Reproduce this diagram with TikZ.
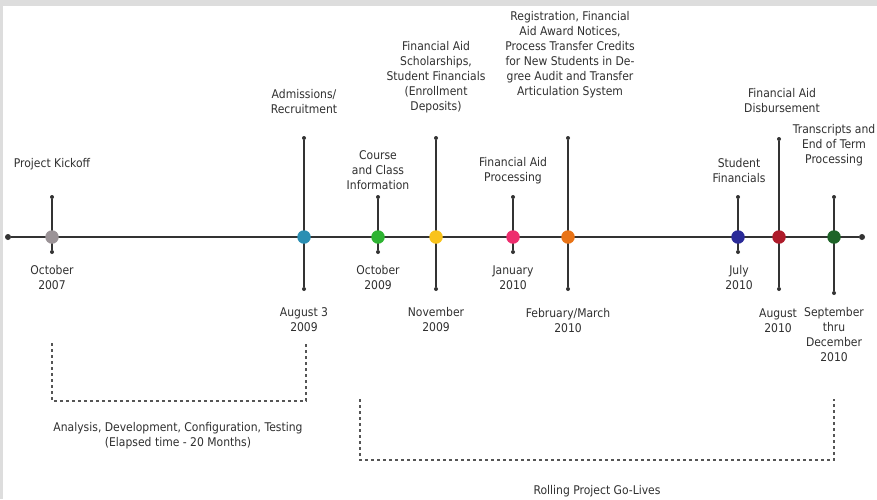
\documentclass[tikz,border=0pt]{standalone}
\usepackage{fontspec}
\setmainfont{DejaVu Sans}[FakeStretch=0.9]
\definecolor{linec}{HTML}{333333}
\definecolor{textc}{HTML}{303030}
\definecolor{dashc}{HTML}{555555}
\definecolor{framec}{HTML}{DDDDDD}
\definecolor{kgray}{HTML}{9B9397}
\definecolor{kteal}{HTML}{2B8FB3}
\definecolor{kgreen}{HTML}{2EB432}
\definecolor{kyellow}{HTML}{F9C31C}
\definecolor{kpink}{HTML}{EE2D6E}
\definecolor{korange}{HTML}{E97316}
\definecolor{knavy}{HTML}{2A2A98}
\definecolor{kred}{HTML}{AE1B2A}
\definecolor{kdgreen}{HTML}{1E6428}
\tikzset{
  axis/.style={draw=linec, line width=1.6pt},
  ms/.style={circle, inner sep=0pt, minimum size=13.5pt, draw=none},
  tipdot/.style={circle, fill=linec, inner sep=0pt, minimum size=4pt},
  enddot/.style={circle, fill=linec, inner sep=0pt, minimum size=6pt},
  lbl/.style={align=center, inner sep=0pt, text=textc, font=\fontsize{12}{15}\selectfont},
  bracket/.style={draw=dashc, line width=1.2pt, dash pattern=on 3pt off 3pt},
}
\begin{document}
\begin{tikzpicture}[x=1pt,y=-1pt]
\useasboundingbox (0,0) rectangle (877,499);
\fill[framec] (0,0) rectangle (877,499);
\fill[white] (3,6) rectangle (877,499);

% main axis
\node[enddot] (L) at (8,237) {};
\node[enddot] (R) at (862,237) {};
\draw[axis] (L) -- (R);

% vertical stems
\node[tipdot] (t1) at (52,197) {};  \node[tipdot] (b1) at (52,252) {};
\node[tipdot] (t2) at (304,138) {}; \node[tipdot] (b2) at (304,289) {};
\node[tipdot] (t3) at (378,197) {}; \node[tipdot] (b3) at (378,252) {};
\node[tipdot] (t4) at (436,138) {}; \node[tipdot] (b4) at (436,289) {};
\node[tipdot] (t5) at (513,197) {}; \node[tipdot] (b5) at (513,252) {};
\node[tipdot] (t6) at (568,138) {}; \node[tipdot] (b6) at (568,289) {};
\node[tipdot] (t7) at (738,197) {}; \node[tipdot] (b7) at (738,252) {};
\node[tipdot] (t8) at (779,139) {}; \node[tipdot] (b8) at (779,289) {};
\node[tipdot] (t9) at (834,197) {}; \node[tipdot] (b9) at (834,293) {};
\foreach \i in {1,...,9} { \draw[axis] (t\i) -- (b\i); }

% milestones
\node[ms, fill=kgray]   (m1) at (52,237) {};
\node[ms, fill=kteal]   (m2) at (304,237) {};
\node[ms, fill=kgreen]  (m3) at (378,237) {};
\node[ms, fill=kyellow] (m4) at (436,237) {};
\node[ms, fill=kpink]   (m5) at (513,237) {};
\node[ms, fill=korange] (m6) at (568,237) {};
\node[ms, fill=knavy]   (m7) at (738,237) {};
\node[ms, fill=kred]    (m8) at (779,237) {};
\node[ms, fill=kdgreen] (m9) at (834,237) {};

% labels
\node[lbl] (l1) at (52,164) {Project Kickoff};
\node[lbl] (d1) at (52,277.5) {October\\2007};
\node[lbl] (l2) at (304,101.5) {Admissions/\\Recruitment};
\node[lbl] (d2) at (304,320) {August 3\\2009};
\node[lbl] (l3) at (378,170) {Course\\and Class\\Information};
\node[lbl] (d3) at (378,278) {October\\2009};
\node[lbl] (l4) at (436,77.5) {Financial Aid\\Scholarships,\\Student Financials\\(Enrollment\\Deposits)};
\node[lbl] (d4) at (436,320) {November\\2009};
\node[lbl] (l5) at (513,170.5) {Financial Aid\\Processing};
\node[lbl] (d5) at (513,277.5) {January\\2010};
\node[lbl] (l6) at (570,54.5) {Registration, Financial\\Aid Award Notices,\\Process Transfer Credits\\for New Students in De-\\gree Audit and Transfer\\Articulation System};
\node[lbl] (d6) at (568,321) {February/March\\2010};
\node[lbl] (l7) at (739,170.5) {Student\\Financials};
\node[lbl] (d7) at (739,278) {July\\2010};
\node[lbl] (l8) at (782,100.5) {Financial Aid\\Disbursement};
\node[lbl] (d8) at (778,320.5) {August\\2010};
\node[lbl] (l9) at (834,145) {Transcripts and\\End of Term\\Processing};
\node[lbl] (d9) at (834,335) {September\\thru\\December\\2010};

% brackets
\coordinate (a1) at (52,343);  \coordinate (a2) at (52,401);
\coordinate (a3) at (306,401); \coordinate (a4) at (306,343);
\draw[bracket] (a1) -- (a2) -- (a3) -- (a4);
\coordinate (r1) at (360,399); \coordinate (r2) at (360,460);
\coordinate (r3) at (834,460); \coordinate (r4) at (834,399);
\draw[bracket] (r1) -- (r2) -- (r3) -- (r4);

\node[lbl] (ta) at (178,436) {Analysis, Development, Configuration, Testing\\(Elapsed time - 20 Months)};
\node[lbl] (tr) at (597,491) {Rolling Project Go-Lives};
\end{tikzpicture}
\end{document}
